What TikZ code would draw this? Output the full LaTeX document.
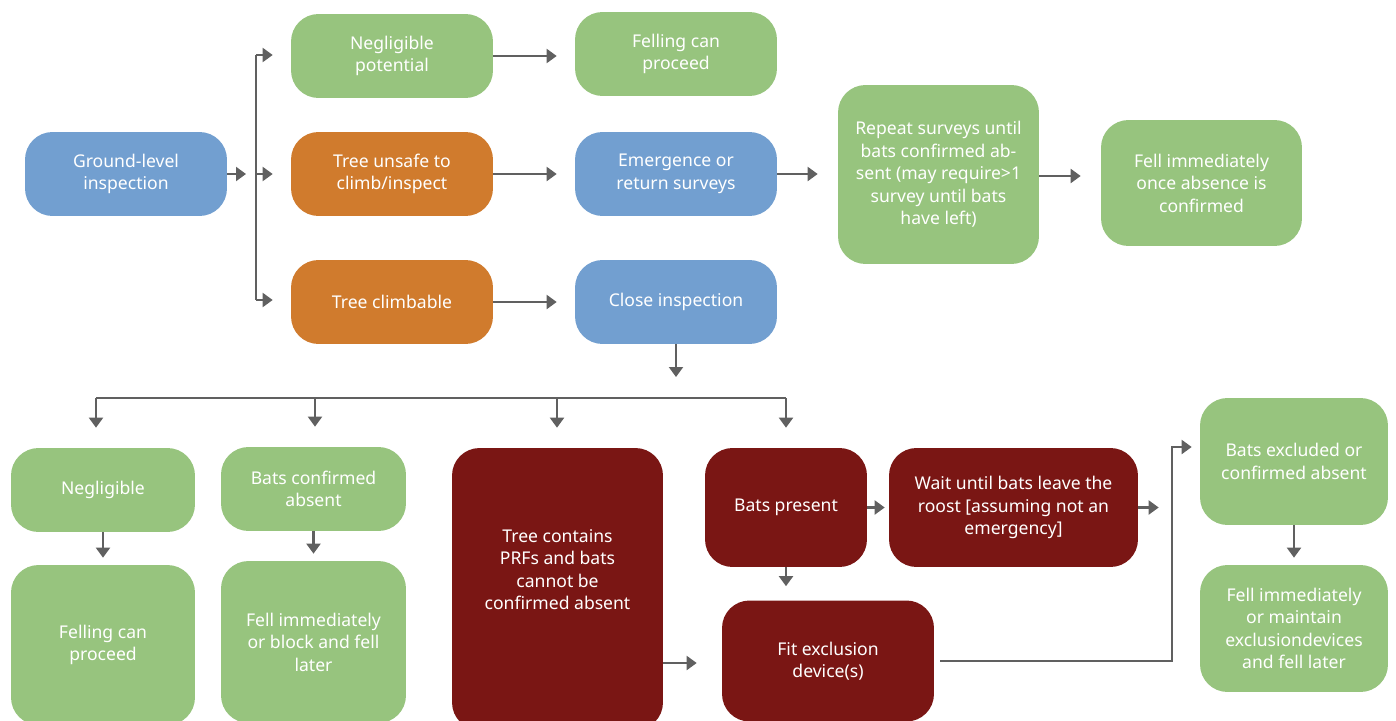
\documentclass[tikz,border=0pt]{standalone}
\usepackage{fontspec}
\setmainfont{Noto Sans}
\usetikzlibrary{arrows.meta, positioning}
\definecolor{boxblue}{HTML}{729FD0}
\definecolor{boxgreen}{HTML}{97C47E}
\definecolor{boxorange}{HTML}{D07B2D}
\definecolor{boxred}{HTML}{7A1614}
\definecolor{linegray}{HTML}{606060}

\begin{document}
\begin{tikzpicture}[
  x=0.02cm, y=-0.02cm,
  box/.style={rounded corners=5.5mm, text=white, align=center, inner sep=2pt,
    font=\fontsize{10}{12.8}\selectfont},
  wbox/.style={box, minimum width=4.04cm, minimum height=1.68cm},
  blue/.style={fill=boxblue},
  green/.style={fill=boxgreen},
  orange/.style={fill=boxorange},
  dark/.style={fill=boxred},
  link/.style={draw=linegray, line width=1.2pt},
  edge/.style={link, -{Triangle[length=2mm, width=2.8mm]}, shorten >=0.36cm}
]
\useasboundingbox (0,0) rectangle (1396,720);

% top part
\node[wbox, blue] (ground) at (126,174) {Ground-level\\inspection};
\node[wbox, green] (negpot) at (392,56) {Negligible\\potential};
\node[wbox, green] (fellA) at (676,54) {Felling can\\proceed};
\node[wbox, orange] (unsafe) at (392,174) {Tree unsafe to\\climb/inspect};
\node[wbox, blue] (emerg) at (676,174) {Emergence or\\return surveys};
\node[wbox, orange] (climb) at (392,302) {Tree climbable};
\node[wbox, blue] (close) at (676,302) {Close inspection};
\node[box, green, minimum width=4.02cm, minimum height=3.58cm] (repeat) at (938.5,174.5)
  {Repeat surveys until\\bats confirmed ab-\\sent (may require>1\\survey until bats\\have left)};
\node[box, green, minimum width=4.02cm, minimum height=2.52cm] (fellB) at (1201.5,183)
  {Fell immediately\\once absence is\\confirmed};

% bottom part
\node[box, green, minimum width=3.68cm, minimum height=1.68cm] (negl) at (103,490) {Negligible};
\node[box, green, minimum width=3.68cm, minimum height=3.2cm] (fellC) at (103,645) {Felling can\\proceed};
\node[box, green, minimum width=3.7cm, minimum height=1.68cm] (absent) at (313.5,489) {Bats confirmed\\absent};
\node[box, green, minimum width=3.7cm, minimum height=3.24cm] (fellD) at (313.5,642)
  {Fell immediately\\or block and fell\\later};
\node[box, dark, minimum width=4.22cm, minimum height=5.64cm, text depth=0.78cm] (tree) at (557.5,589)
  {Tree contains\\PRFs and bats\\cannot be\\confirmed absent};
\node[box, dark, minimum width=3.24cm, minimum height=2.38cm] (present) at (786,507.5) {Bats present};
\node[box, dark, minimum width=4.98cm, minimum height=2.38cm] (wait) at (1013.5,507.5)
  {Wait until bats leave the\\roost [assuming not an\\emergency]};
\node[box, dark, minimum width=4.24cm, minimum height=2.42cm] (fit) at (828,661) {Fit exclusion\\device(s)};
\node[box, green, minimum width=3.76cm, minimum height=2.54cm] (excl) at (1294,461.5)
  {Bats excluded or\\confirmed absent};
\node[box, green, minimum width=3.76cm, minimum height=2.54cm] (fellE) at (1294,628.5)
  {Fell immediately\\or maintain\\exclusiondevices\\and fell later};

% branch points
\coordinate (g1) at (246,174);
\coordinate (b1) at (256,55);
\coordinate (b2) at (256,174);
\coordinate (b3) at (256,300);
\coordinate (h1) at (96,398);
\coordinate (h2) at (315,398);
\coordinate (h3) at (557,398);
\coordinate (h4) at (786,398);
\coordinate (turn) at (1172,447);

\draw[link, -{Triangle[length=2mm, width=2.8mm]}] (ground.east) -- (g1);
\draw[link] (b1) -- (b3);
\draw[edge] (b1) -- (b1 -| negpot.west);
\draw[edge] (b2) -- (b2 -| unsafe.west);
\draw[edge] (b3) -- (b3 -| climb.west);
\draw[edge] (negpot.east) -- (negpot.east -| fellA.west);
\draw[edge] (unsafe) -- (emerg);
\draw[edge] (climb) -- (close);
\draw[edge, shorten >=0.4cm] (emerg) -- (emerg.east -| repeat.west);
\draw[edge, shorten >=0.4cm] (repeat.east |- 0,176) -- (fellB.west |- 0,176);

\draw[edge, shorten >=0.42cm] (close.south) -- (close.south |- h4);
\draw[link] (h1) -- (h4);
\draw[edge, shorten >=0.4cm] (h1) -- (h1 |- negl.north);
\draw[edge, shorten >=0.4cm] (h2) -- (h2 |- absent.north);
\draw[edge, shorten >=0.4cm] (h3) -- (h3 |- tree.north);
\draw[edge, shorten >=0.4cm] (h4) -- (h4 |- present.north);

\draw[edge, shorten >=0.14cm] (negl) -- (fellC);
\draw[edge, shorten >=0.14cm] (absent) -- (fellD);
\draw[edge, shorten >=0.5cm] (tree.east |- 0,663) -- (fit.west |- 0,663);
\draw[edge, shorten >=0.08cm] (present) -- (wait);
\draw[edge, shorten >=0.28cm] (present) -- (present |- fit.north);
\draw[edge, shorten >=0.82cm] (wait.east) -- (wait.east -| excl.west);
\draw[edge, shorten <=0.12cm, shorten >=0.16cm] (fit.east) -| (turn) -- (turn -| excl.west);
\draw[edge, shorten >=0.14cm] (excl) -- (fellE);
\end{tikzpicture}
\end{document}
